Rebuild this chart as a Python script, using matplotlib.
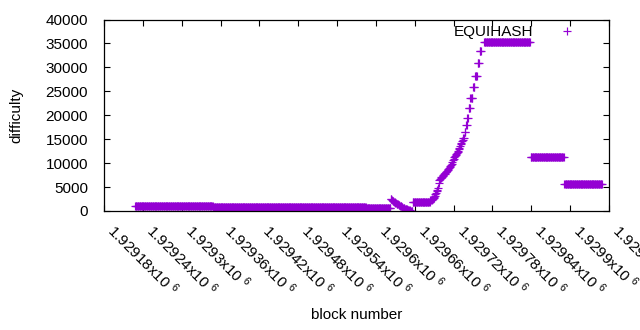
import numpy as np
import matplotlib
matplotlib.use('Agg')
import matplotlib.pyplot as plt
from matplotlib.lines import Line2D

plt.rcParams['font.family'] = ['Liberation Sans', 'DejaVu Sans']
plt.rcParams['mathtext.fontset'] = 'custom'
plt.rcParams['mathtext.rm'] = 'Liberation Sans'
plt.rcParams['mathtext.it'] = 'Liberation Sans:italic'

# ---- data ----
# flat runs: first block, last block, difficulty
run_start = [1929228, 1929349, 1929585, 1929657, 1929767, 1929839, 1929891]
run_end   = [1929348, 1929584, 1929622, 1929683, 1929838, 1929890, 1929949]
run_value = [1000, 780, 650, 1950, 35300, 11200, 5560]

# spike after block 1929622, one value per block
hump_first_block = 1929623
hump_values = [2600, 2450, 2300, 2150, 2020, 1900, 1800, 1700, 1610, 1520,
               1440, 1360, 1280, 1200, 1120, 1040, 960, 880, 800, 720,
               650, 580, 510, 450, 390, 330, 270, 220, 170, 130,
               90, 60, 40, 20]

# climb, one value per block
rise_first_block = 1929684
rise_values = [2300, 2350, 2400, 2500, 2600, 2750,
               2900, 3200, 3450, 3700, 4100, 4400, 4900, 5800, 6400, 6650,
               6900, 7000, 7100, 7250, 7450, 7700, 7800, 7900, 8050, 8200,
               8300, 8500, 8700, 8900, 9100, 9300, 9600, 9900, 10200, 10600,
               10900, 11200, 11500, 11700, 11900, 12100, 12300, 12600, 12900, 13200,
               13500, 13900, 14300, 14600, 14900,
               15200, 15200, 16500, 16500, 17900, 17900, 19400, 19400,
               21450, 21450, 21450, 23600, 23600, 23600, 23600,
               25900, 25900, 25900, 28300, 28300, 28300, 28300,
               30900, 30900, 30900, 33400, 33400, 33400]

x_ticks = [1929180, 1929240, 1929300, 1929360, 1929420, 1929480, 1929540,
           1929600, 1929660, 1929720, 1929780, 1929840, 1929900, 1929960]
x_tick_labels = ['1.92918', '1.92924', '1.9293', '1.92936', '1.92942', '1.92948',
                 '1.92954', '1.9296', '1.92966', '1.92972', '1.92978', '1.92984',
                 '1.9299', '1.92996']
y_ticks = [0, 5000, 10000, 15000, 20000, 25000, 30000, 35000, 40000]
series_name = 'EQUIHASH'

# ---- assemble points ----
blocks = []
values = []
for s, e, v in zip(run_start, run_end, run_value):
    for b in range(s, e + 1):
        blocks.append(b)
        values.append(v)
for i, v in enumerate(hump_values):
    blocks.append(hump_first_block + i)
    values.append(v)
for i, v in enumerate(rise_values):
    blocks.append(rise_first_block + i)
    values.append(v)
order = np.argsort(blocks)
blocks = np.array(blocks)[order]
values = np.array(values)[order]

color = '#9400d3'
fs = 11
ms = 5.2
mew = 0.85

fig = plt.figure(figsize=(6.4, 3.3), dpi=100)
ax = fig.add_axes([104 / 640, 1 - 211 / 330, 505 / 640, 191.5 / 330])

ax.plot(blocks, values, linestyle='none', marker='+', markersize=ms,
        markeredgewidth=mew, color=color)

ax.set_xlim(x_ticks[0], x_ticks[-1])
ax.set_ylim(0, 40000)
ax.set_xticks(x_ticks)
ax.set_xticklabels([t + r'x10 $^{\mathregular{6}}$' for t in x_tick_labels],
                   rotation=-45, ha='left', va='top', fontsize=fs)
ax.set_yticks(y_ticks)
ax.set_yticklabels([str(t) for t in y_ticks], fontsize=fs)

ax.tick_params(direction='in', length=4, width=0.8, top=True, right=True,
               colors='black')
ax.tick_params(axis='y', pad=11.5)
ax.tick_params(axis='x', pad=7)
for sp in ax.spines.values():
    sp.set_linewidth(0.9)
    sp.set_color('black')

ax.set_ylabel('difficulty', fontsize=fs, va='center')
ax.yaxis.set_label_coords(-0.174, 0.5)
ax.set_xlabel('block number', fontsize=fs, va='center')
ax.xaxis.set_label_coords(0.5, -0.543)

# legend: text then sample, like gnuplot's key
L = 2.0
handle = Line2D([], [], linestyle='none', marker='+', markersize=ms + 0.3,
                markeredgewidth=mew, color=color, markeredgecolor=color)
ax.legend([handle], [series_name], loc='center right', markerfirst=False,
          frameon=False, fontsize=fs, handlelength=L, handletextpad=1.2,
          borderpad=0, borderaxespad=0, numpoints=1,
          bbox_to_anchor=((567.3 + L * fs * 100 / 72 / 2 - 104) / 505,
                          (211 - 32) / 191.5))

fig.savefig('out.png', dpi=100)
